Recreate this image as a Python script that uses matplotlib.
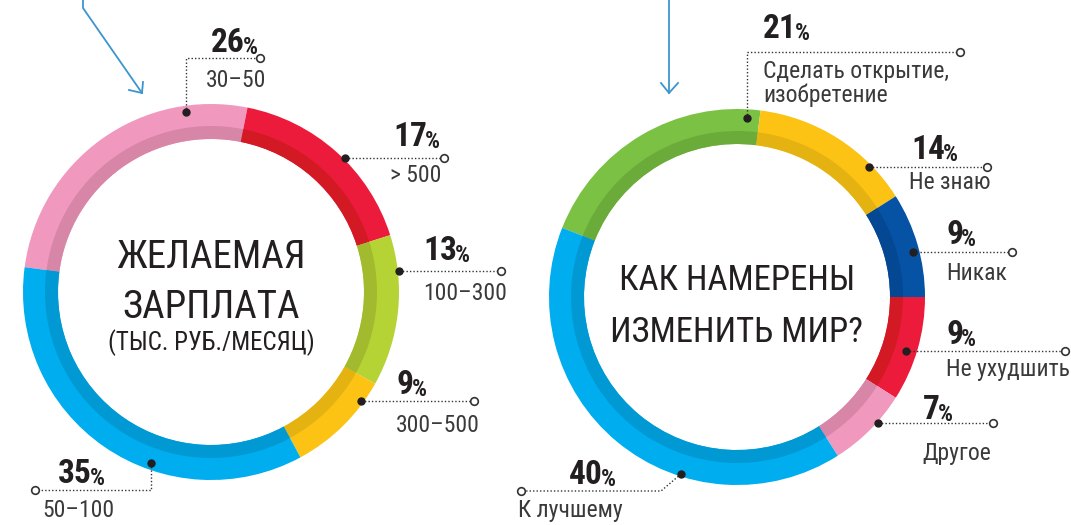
import matplotlib
matplotlib.use("Agg")
import matplotlib.pyplot as plt
from matplotlib import font_manager

# ---- data ----
salary_labels = ["30–50", "> 500", "100–300", "300–500", "50–100"]
salary_share = [26, 17, 13, 9, 35]

change_labels = ["Сделать открытие,\nизобретение", "Не знаю", "Никак",
                 "Не ухудшить", "Другое", "К лучшему"]
change_share = [21, 14, 9, 9, 7, 40]

# ---- colours ----
salary_colors = ["#F198BF", "#ED1B3B", "#B5D334", "#FCC314", "#00ADEE"]
salary_dark = ["#D886A8", "#D31A24", "#A1BA2E", "#E4B311", "#0099D4"]
change_colors = ["#7BC143", "#FCC314", "#0652A5", "#ED1B3B", "#F198BF", "#00ADEE"]
change_dark = ["#6BAB3A", "#E4B311", "#044894", "#D31A24", "#D886A8", "#0099D4"]
ARROW = "#3D95CE"
INK = "#231F20"
GREY = "#3A3A3A"

# pick a narrow face if there is one
names = {f.name for f in font_manager.fontManager.ttflist}
narrow = "DejaVu Sans"
for cand in ["Liberation Sans Narrow", "Roboto Condensed", "Open Sans Condensed"]:
    if cand in names:
        narrow = cand
        break
FAM = [narrow, "DejaVu Sans"]

# leader layout in pixel coords: dot, bend points, open end, pct text (x, base), label (x, last base)
salary_layout = [
    dict(path=[(186, 112), (186, 58), (260, 58)], pct=(211, 52), lab=(206, 87)),
    dict(path=[(345, 158), (444, 158)], pct=(393, 146), lab=(390, 182)),
    dict(path=[(399, 271), (501, 271)], pct=(423, 260), lab=(423, 300)),
    dict(path=[(361, 401), (474, 401)], pct=(397, 394), lab=(396, 432)),
    dict(path=[(151, 463), (151, 490), (35, 490)], pct=(58, 483), lab=(42, 517)),
]
change_layout = [
    dict(path=[(747, 118), (747, 52), (960, 52)], pct=(763, 38), lab=(763, 102)),
    dict(path=[(869, 167), (987, 167)], pct=(911, 159), lab=(909, 189)),
    dict(path=[(913, 252), (1012, 252)], pct=(946, 244), lab=(946, 280)),
    dict(path=[(906, 351), (1065, 351)], pct=(946, 344), lab=(946, 376)),
    dict(path=[(878, 423), (993, 423)], pct=(923, 419), lab=(922, 460)),
    dict(path=[(681, 474), (661, 491), (521, 491)], pct=(569, 484), lab=(518, 517)),
]

W, H = 1071, 525
fig = plt.figure(figsize=(W / 100, H / 100), dpi=100)
ax = fig.add_axes([0, 0, 1, 1])

R_OUT, RING, BAND = 188, 35, 13


def donut(center, shares, colors, dark, clock_start):
    # y axis is flipped later, so angles run clockwise on screen
    start = clock_start - 90
    ax.pie(shares, colors=colors, radius=R_OUT, center=center, startangle=start,
           counterclock=True, wedgeprops=dict(width=RING, linewidth=0))
    ax.pie(shares, colors=dark, radius=R_OUT - RING + BAND, center=center,
           startangle=start, counterclock=True,
           wedgeprops=dict(width=BAND, linewidth=0))


def callouts(shares, labels, layout):
    for v, lab, lay in zip(shares, labels, layout):
        xs = [p[0] for p in lay["path"]]
        ys = [p[1] for p in lay["path"]]
        ax.plot(xs, ys, color="#333333", lw=1.0, ls=(0, (1, 1.5)), zorder=3)
        ax.plot(xs[0], ys[0], "o", ms=5, color="#231F20", zorder=4)
        ax.plot(xs[-1], ys[-1], "o", ms=5.5, mfc="white", mec="#333333", mew=1.2, zorder=4)
        t = ax.text(lay["pct"][0], lay["pct"][1], str(v), fontsize=24, fontweight="bold",
                    family=FAM, color=INK, ha="left", va="baseline")
        ax.annotate("%", xy=(1, 0), xycoords=t, xytext=(-1.5, 0), textcoords="offset points",
                    fontsize=17, fontweight="bold", family=FAM, color=INK,
                    ha="left", va="bottom")
        ax.text(lay["lab"][0], lay["lab"][1], lab, fontsize=17, family=FAM, color=GREY,
                ha="left", va="baseline", linespacing=1.05)


donut((211, 292), salary_share, salary_colors, salary_dark, 277.6)
donut((737, 297), change_share, change_colors, change_dark, 291.6)
callouts(salary_share, salary_labels, salary_layout)
callouts(change_share, change_labels, change_layout)

# centre titles
ax.text(211, 268, "ЖЕЛАЕМАЯ", fontsize=28, family=FAM, color=INK, ha="center", va="baseline")
ax.text(211, 318, "ЗАРПЛАТА", fontsize=28, family=FAM, color=INK, ha="center", va="baseline")
ax.text(211, 350, "(ТЫС. РУБ./МЕСЯЦ)", fontsize=18, family=FAM, color=INK, ha="center", va="baseline")
ax.text(737, 290, "КАК НАМЕРЕНЫ", fontsize=25, family=FAM, color=INK, ha="center", va="baseline")
ax.text(737, 342, "ИЗМЕНИТЬ МИР?", fontsize=25, family=FAM, color=INK, ha="center", va="baseline")

# pointer arrows from above
ax.plot([83, 83, 142], [0, 8, 93], color=ARROW, lw=1.3)
ax.plot([129, 142, 143], [90, 93, 82], color=ARROW, lw=1.3)
ax.plot([669, 669], [0, 93], color=ARROW, lw=1.3)
ax.plot([661, 669, 678], [83, 93, 83], color=ARROW, lw=1.3)

ax.set_xlim(0, W)
ax.set_ylim(H, 0)
ax.set_aspect("equal")
ax.axis("off")

fig.savefig("out.png", dpi=100, facecolor="white")
